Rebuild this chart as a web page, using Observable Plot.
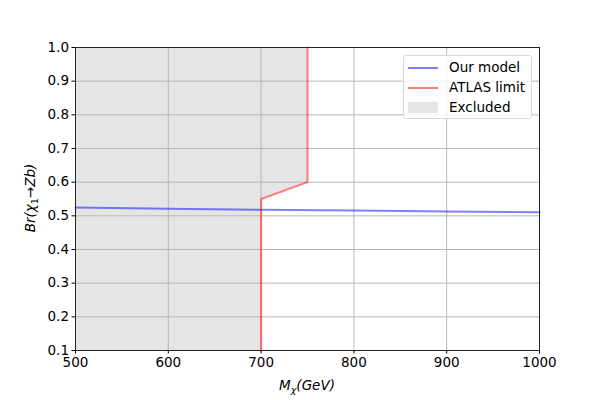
<!DOCTYPE html>
<html><head><meta charset="utf-8">
<script src="https://cdn.jsdelivr.net/npm/d3@7"></script>
<script src="https://cdn.jsdelivr.net/npm/@observablehq/plot@0.6"></script>
<style>
body{margin:0;background:#fff;font-family:"DejaVu Sans",sans-serif;}
#wrap{position:relative;width:599px;height:400px;}
.legend{position:absolute;left:403px;top:55px;width:129px;height:64px;border:1px solid #d8d8d8;border-radius:3px;background:rgba(255,255,255,0.8);box-sizing:border-box;font-family:"DejaVu Sans";font-size:13.5px;color:#000;}
.legend .row{position:absolute;left:0;height:20px;width:100%;}
.legend .sw{position:absolute;left:4px;width:30px;}
.legend .lab{position:absolute;left:45px;top:1px;white-space:nowrap;}
</style>
</head><body><div id="wrap"></div>
<script>
// data
const massX = [500, 600, 700, 800, 900, 1000];
const modelBr = [0.525, 0.521, 0.518, 0.516, 0.513, 0.511];
const limitMass = [700, 700, 750, 750];
const limitBr = [0.1, 0.55, 0.6, 1.0];
const xTicks = [500, 600, 700, 800, 900, 1000];
const yTicks = [0.1, 0.2, 0.3, 0.4, 0.5, 0.6, 0.7, 0.8, 0.9, 1.0];
const xDomain = [500, 1000];
const yDomain = [0.1, 1.0];
const legendLabels = ["Our model", "ATLAS limit", "Excluded"];

const model = massX.map((m, i) => ({m, br: modelBr[i]}));
const limit = limitMass.map((m, i) => ({m, br: limitBr[i]}));

const chart = Plot.plot({
  width: 599, height: 400,
  marginLeft: 75, marginRight: 60, marginTop: 47, marginBottom: 50,
  style: {fontFamily: "DejaVu Sans", fontSize: "13.5px", color: "#000", background: "#fff"},
  x: {domain: xDomain},
  y: {domain: yDomain},
  marks: [
    Plot.areaX(limit, {x1: () => xDomain[0], x2: "m", y: "br", fill: "#d3d3d3", fillOpacity: 0.6}),
    Plot.gridX(xTicks, {stroke: "#b0b0b0", strokeOpacity: 1, strokeWidth: 0.9}),
    Plot.gridY(yTicks, {stroke: "#b0b0b0", strokeOpacity: 1, strokeWidth: 0.9}),
    Plot.line(model, {x: "m", y: "br", stroke: "blue", strokeOpacity: 0.5, strokeWidth: 2}),
    Plot.line(limit, {x: "m", y: "br", stroke: "red", strokeOpacity: 0.5, strokeWidth: 2}),
    Plot.axisX({ticks: xTicks, tickSize: 3.5, tickPadding: 3, label: null, tickFormat: d3.format("d")}),
    Plot.axisY({ticks: yTicks, tickSize: 3.5, tickPadding: 3, label: null, tickFormat: d3.format(".1f")}),
    Plot.frame({stroke: "#222", strokeWidth: 1})
  ]
});
document.getElementById("wrap").appendChild(chart);

const svg = d3.select(chart);
// x label
const xl = svg.append("text").attr("x", 307).attr("y", 390).attr("text-anchor", "middle")
  .attr("font-family", "DejaVu Sans").attr("font-size", "13.5px").attr("font-style", "italic").attr("fill", "#000");
xl.append("tspan").text("M");
xl.append("tspan").attr("font-size", "9.5px").attr("dy", 3).text("χ");
xl.append("tspan").attr("dy", -3).text("(GeV)");
// y label
const yl = svg.append("text").attr("transform", "translate(35,198) rotate(-90)").attr("text-anchor", "middle")
  .attr("font-family", "DejaVu Sans").attr("font-size", "13.5px").attr("font-style", "italic").attr("fill", "#000");
yl.append("tspan").text("Br(χ");
yl.append("tspan").attr("font-size", "9.5px").attr("font-style", "normal").attr("dy", 3).text("1");
yl.append("tspan").attr("dy", -3).attr("font-style", "normal").text("→");
yl.append("tspan").text("Zb)");

// legend
const lg = document.createElement("div");
lg.className = "legend";
const sw = [
  '<div class="sw" style="top:9px;height:2px;background:rgba(0,0,255,0.5)"></div>',
  '<div class="sw" style="top:9px;height:2px;background:rgba(255,0,0,0.5)"></div>',
  '<div class="sw" style="top:4px;height:11px;background:rgba(211,211,211,0.6)"></div>'
];
legendLabels.forEach((t, i) => {
  const r = document.createElement("div");
  r.className = "row";
  r.style.top = (2 + i * 20) + "px";
  r.innerHTML = sw[i] + '<div class="lab">' + t + '</div>';
  lg.appendChild(r);
});
document.getElementById("wrap").appendChild(lg);
</script>
</body></html>
